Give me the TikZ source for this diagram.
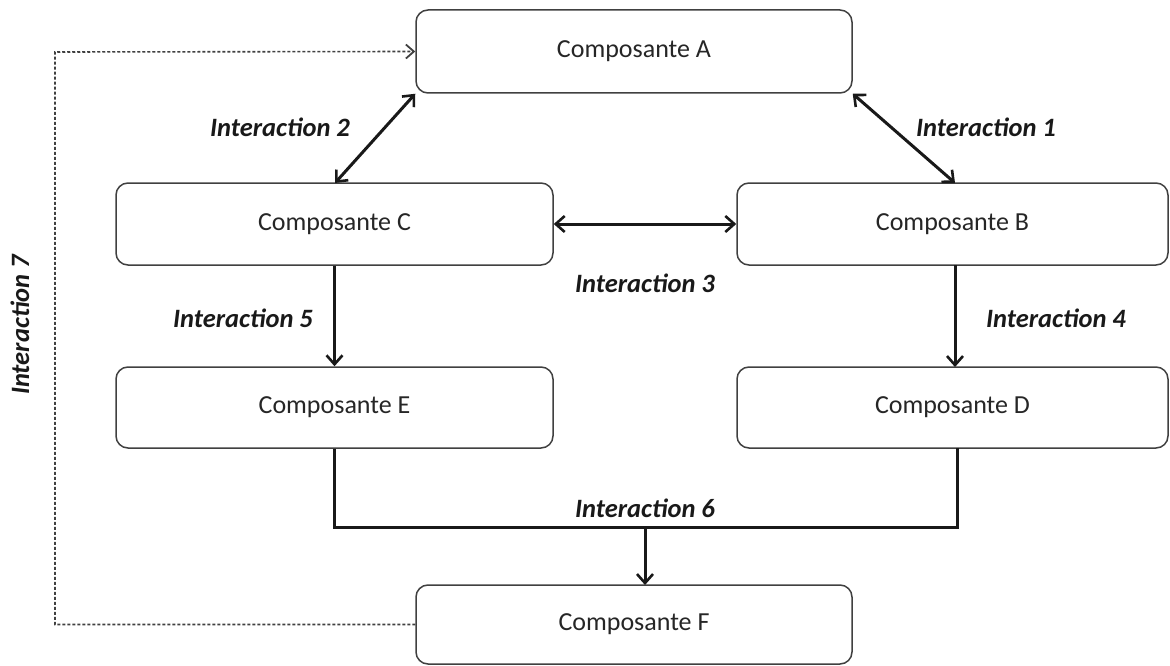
\documentclass[tikz,border=0pt]{standalone}
\usepackage{fontspec}
\setmainfont{Carlito}
\usetikzlibrary{arrows.meta}
\begin{document}
\begin{tikzpicture}[x=1pt,y=-1pt,
  comp/.style={draw=black!75,line width=1.5pt,rounded corners=12pt,fill=white,
    font=\fontsize{26}{31}\selectfont,text=black!85,inner sep=0pt},
  lab/.style={font=\fontsize{26.5}{31}\selectfont\bfseries\itshape,text=black!90,inner sep=0pt},
  conn/.style={line width=3pt,draw=black!90,
    arrows={-Straight Barb[length=9pt,width=16pt,line width=2.6pt]}},
  dconn/.style={conn,arrows={Straight Barb[length=9pt,width=16pt,line width=2.6pt]-Straight Barb[length=9pt,width=16pt,line width=2.6pt]}},
  dash7/.style={draw=black!75,line width=1.6pt,dash pattern=on 3pt off 2pt,
    arrows={-Straight Barb[length=8pt,width=14pt,line width=1.8pt]}}]
\useasboundingbox (0,0) rectangle (1170,666);
\node[comp,minimum width=436pt,minimum height=83pt] (A) at (634,51.5) {Composante A};
\node[comp,minimum width=437pt,minimum height=82pt] (C) at (334.5,224) {Composante C};
\node[comp,minimum width=431pt,minimum height=82pt] (B) at (952.5,224) {Composante B};
\node[comp,minimum width=437pt,minimum height=81pt] (E) at (334.5,407.5) {Composante E};
\node[comp,minimum width=431pt,minimum height=81pt] (D) at (952.5,407.5) {Composante D};
\node[comp,minimum width=436pt,minimum height=79pt] (F) at (634,624.5) {Composante F};
% interactions 1 and 2
\draw[dconn] (A.south west) -- (335,183);
\draw[dconn] (A.south east) -- (955,183);
% interaction 3
\draw[dconn] (C.east) -- (B.west);
% 5 and 4
\draw[conn] (C.south) -- (E.north);
\draw[conn] (955,265) -- (955,367);
% interaction 6
\coordinate (j6) at (645,527);
\draw[line width=3pt,draw=black!90,line join=miter] (E.south) -- (334.5,527) -- (957,527) -- (957,448);
\draw[conn] (j6) -- (645,585);
% interaction 7
\coordinate (c1) at (55,624.5);
\coordinate (c2) at (55,52);
\draw[dash7] (F.west) -- (c1) -- (c2) -- (A.west);
% labels
\node[lab] (l1) at (986,127) {Interaction 1};
\node[lab] (l2) at (280,127) {Interaction 2};
\node[lab] (l3) at (645,283) {Interaction 3};
\node[lab] (l4) at (1056,318) {Interaction 4};
\node[lab] (l5) at (243,318) {Interaction 5};
\node[lab] (l6) at (645,508) {Interaction 6};
\node[lab,rotate=90] (l7) at (20,325) {Interaction 7};
\end{tikzpicture}
\end{document}
